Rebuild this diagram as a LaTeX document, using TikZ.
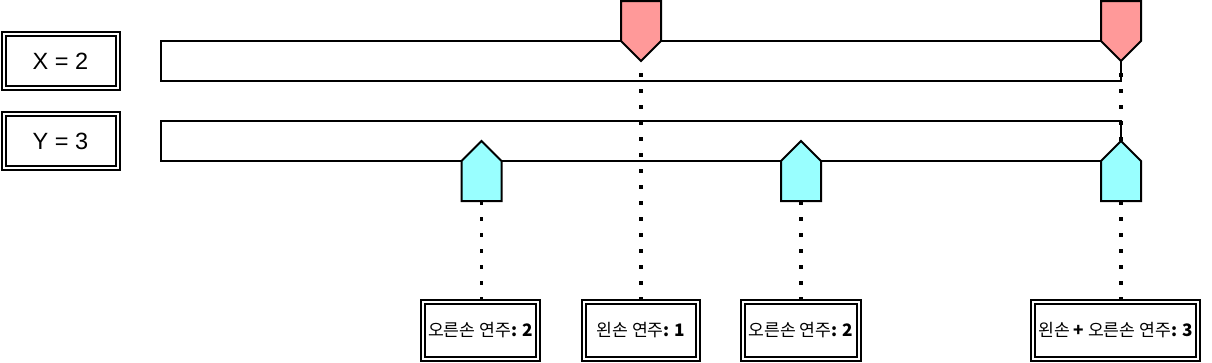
\documentclass[tikz,border=0pt]{standalone}
\usepackage{fontspec}
\setmainfont{Liberation Sans}
\newfontfamily\kr{Noto Sans CJK KR}
\begin{document}
\begin{tikzpicture}[x=1pt,y=-1pt,
  varbox/.style={draw,double,line width=2pt,double distance=2pt,fill=white,inner sep=0pt,outer sep=0pt,
    minimum width=114pt,minimum height=54pt,font=\fontsize{23.5}{28}\selectfont},
  resbox/.style={draw,double,line width=2pt,double distance=2pt,fill=white,inner sep=0pt,outer sep=0pt,
    minimum height=57pt,font=\fontsize{17.2}{20}\selectfont},
  bar/.style={draw,line width=2pt,fill=white,inner sep=0pt,outer sep=0pt,minimum width=960pt,minimum height=40pt},
  xmark/.style={draw,line width=2pt,fill={rgb,255:red,255;green,153;blue,153},line join=miter},
  ymark/.style={draw,line width=2pt,fill={rgb,255:red,153;green,255;blue,255},line join=miter},
  dots/.style={line width=3.6pt,dash pattern=on 3.6pt off 12.4pt},
  xdots/.style={dots,dash phase=4pt},
  ydots/.style={dots,dash phase=0pt}
]
\useasboundingbox (0,0) rectangle (1212,362);
% variable boxes
\node[varbox] (vx) at (60.5,61) {X = 2};
\node[varbox] (vy) at (60.5,141) {Y = 3};
% bars
\node[bar] (bx) at (641,61) {};
\node[bar] (by) at (641,141) {};
% result boxes
\node[resbox,minimum width=115pt] (r1) at (480.5,330.5) {\kr 오른손 연주\textbf{: 2}};
\node[resbox,minimum width=114pt] (r2) at (641,330.5) {\kr 왼손 연주\textbf{: 1}};
\node[resbox,minimum width=116pt] (r3) at (801,330.5) {\kr 오른손 연주\textbf{: 2}};
\node[resbox,minimum width=165pt] (r4) at (1115.5,330.5) {\kr 왼손 \textbf{+} 오른손 연주\textbf{: 3}};
% marker tips
\coordinate (tx1) at (641,61);
\coordinate (tx2) at (1121,61);
\coordinate (ty1) at (481.5,201);
\coordinate (ty2) at (801,201);
\coordinate (ty3) at (1121,201);
% dotted connectors
\draw[xdots] (tx1) -- (tx1 |- r2.north);
\draw[xdots] (tx2) -- (tx2 |- r4.north);
\draw[ydots] (ty1) -- (ty1 |- r1.north);
\draw[ydots] (ty2) -- (ty2 |- r3.north);
\draw[ydots] (ty3) -- (ty3 |- r4.north);
% x markers
\draw[xmark] (621,1) -- (661,1) -- (661,41) -- (tx1) -- (621,41) -- cycle;
\draw[xmark] (1101,1) -- (1141,1) -- (1141,41) -- (tx2) -- (1101,41) -- cycle;
% y markers
\draw[ymark] (461.5,201) -- (461.5,161) -- (481.5,141) -- (501.5,161) -- (501.5,201) -- cycle;
\draw[ymark] (781,201) -- (781,161) -- (801,141) -- (821,161) -- (821,201) -- cycle;
\draw[ymark] (1101,201) -- (1101,161) -- (1121,141) -- (1141,161) -- (1141,201) -- cycle;
\end{tikzpicture}
\end{document}
